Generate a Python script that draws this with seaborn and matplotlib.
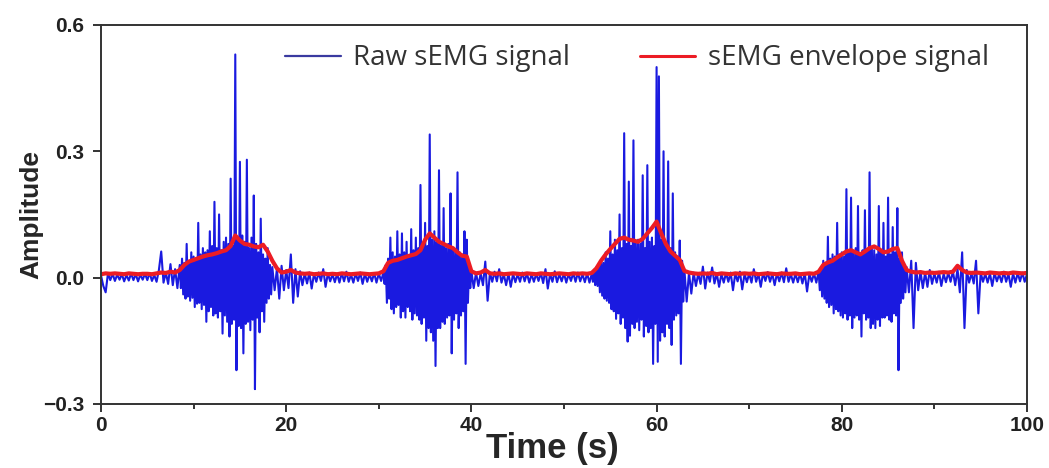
import numpy as np
import matplotlib
matplotlib.use("Agg")
import matplotlib.pyplot as plt
from matplotlib.ticker import MultipleLocator
import seaborn as sns

# raw sEMG signal, values in thousandths.
# quiet stretches are read at 4 samples/s, the four bursts at 8 samples/s

quiet_0 = [  # from 0.0 s
    5, -20, -35, 10,  -6, 9, -8, 7,  -5, 8, -9, 6,  -7, 10, -6, 8,
    -9, 7, -5, 9,  -6, 11, -8, 6,  -10, 18, 62, -12,  12, -15, 32, -18,
    20, -25,
]
burst_1 = [  # from 8.5 s
    30, -25, 45, -40, 35, -50, 80, -45,
    40, -55, 60, -48, 50, -70, 45, -62,
    130, -60, 55, -75, 70, -65, 60, -105,
    65, -80, 110, -70, 75, -90, 180, -85,
    70, -95, 150, -80, 65, -133, 85, -90,
    95, -105, 80, -140, 235, -110, 75, -100,
    530, -220, 90, -115, 275, -120, 100, -180,
    85, -110, 280, -105, 70, -125, 95, -100,
    195, -265, 80, -95, 60, -130, 140, -80,
    55, -105, 45, -60, 70, -50, 30, -40,
]
quiet_1 = [  # from 18.5 s
    25, -30, 22, -50,  28, -30, 18, -25,  55, -60, 20, -45,  15, -18, 10, -14,
    12, -26, 9, -10,  12, -8, 20, -22,  10, -9, 8, -11,  9, -12, 11, -9,
    14, -10, 7, -12,  10, -8, 12, -15,  9, -10, 8, -9,  11, -12, 10, -8,
]
burst_2 = [  # from 30.5 s
    12, -15, 30, -60, 45, -50, 95, -75,
    60, -85, 50, -70, 110, -65, 55, -95,
    105, -80, 60, -95, 85, -70, 50, -80,
    115, -100, 65, -85, 95, -90, 70, -100,
    220, -110, 80, -95, 130, -150, 75, -120,
    340, -130, 90, -150, 110, -210, 85, -120,
    255, -120, 75, -105, 165, -110, 70, -95,
    80, -90, 200, -180, 70, -100, 65, -85,
    250, -120, 60, -90, 55, -80, 110, -205,
    90, -60, 30, -25,
]
quiet_2 = [  # from 40.0 s
    15, -25, 12, -20,  10, -18, 38, -55,  12, -10, 14, -9,  20, -12, 8, -18,
    10, -22, 9, -11,  8, -10, 12, -9,  10, -12, 8, -10,  9, -8, 11, -13,
    20, -26, 9, -10,  15, -11, 8, -9,  10, -12, 9, -8,  11, -10, 12, -9,
    8, -11, 10, -12,
]
burst_3 = [  # from 53.0 s
    9, -10, 15, -18, 25, -20, 30, -35,
    40, -43, 35, -50, 60, -55, 45, -60,
    110, -75, 55, -80, 90, -98, 65, -85,
    150, -110, 70, -95, 343, -120, 80, -152,
    228, -138, 75, -110, 326, -120, 85, -105,
    90, -125, 80, -100, 243, -140, 70, -115,
    267, -130, 85, -120, 95, -205, 75, -110,
    500, -200, 478, -150, 90, -130, 300, -140,
    80, -110, 276, -120, 70, -160, 200, -100,
    60, -90, 50, -85, 88, -205, 40, -57,
]
quiet_3 = [  # from 63.0 s
    20, -57, 12, -38,  12, -20, 10, -15,  26, -26, 12, -10,  24, -14, 10, -22,
    9, -12, 11, -10,  12, -30, 10, -9,  14, -28, 9, -11,  10, -12, 20, -10,
    9, -22, 11, -8,  13, -10, 9, -18,  10, -9, 12, -11,  22, -10, 8, -12,
    9, -11, 10, -14,  11, -33, 9, -10,  10, -12,
]
burst_4 = [  # from 77.5 s
    15, -30, 25, -45, 40, -50, 35, -60,
    97, -70, 45, -65, 55, -85, 50, -75,
    130, -80, 55, -90, 60, -95, 50, -85,
    210, -100, 65, -90, 190, -120, 60, -95,
    70, -90, 170, -100, 55, -140, 65, -85,
    160, -100, 60, -95, 250, -120, 70, -110,
    65, -120, 55, -100, 170, -115, 60, -95,
    130, -95, 50, -90, 190, -100, 55, -105,
    120, -85, 60, -90, 165, -220, 45, -60,
    60, -50, 30, -35,
]
quiet_4 = [  # from 87.0 s
    25, -35, 40, -120,  35, -30, 15, -25,  12, -22, 18, -15,  10, -12, 14, -20,
    9, -11, 12, -10,  15, -18, 20, -35,  60, -120, 18, -12,  10, -14, 40, -85,
    12, -10, 9, -12,  10, -20, 11, -9,  8, -11, 14, -10,  9, -22, 10, -12,
    11, -9, 12, -10,  8,
]

# envelope, 2 samples per second, thousandths (one row per 5 s)
env_milli = [
    8, 10, 9, 10, 9, 8, 10, 9, 8, 9,
    9, 8, 10, 12, 11, 14, 12, 18, 30, 38,
    42, 46, 50, 53, 55, 58, 62, 65, 75, 100,
    88, 80, 78, 74, 72, 78, 62, 40, 22, 12,
    14, 18, 12, 10, 9, 10, 8, 9, 10, 8,
    9, 8, 10, 9, 8, 9, 10, 9, 8, 9,
    10, 15, 35, 40, 42, 46, 50, 53, 56, 65,
    90, 105, 95, 85, 80, 74, 70, 60, 52, 50,
    15, 10, 12, 18, 10, 9, 10, 8, 9, 10,
    9, 8, 10, 9, 8, 10, 9, 8, 9, 10,
    9, 8, 10, 9, 10, 9, 11, 22, 40, 55,
    68, 80, 92, 95, 90, 88, 85, 92, 105, 118,
    133, 105, 80, 62, 52, 42, 16, 12, 10, 9,
    10, 9, 11, 8, 10, 9, 8, 10, 9, 10,
    9, 10, 8, 9, 10, 9, 8, 10, 9, 9,
    10, 8, 9, 10, 9, 14, 30, 36, 40, 48,
    55, 62, 65, 60, 55, 62, 70, 74, 68, 60,
    62, 68, 70, 40, 18, 14, 12, 13, 11, 12,
    11, 12, 13, 12, 14, 28, 18, 12, 11, 12,
    11, 10, 12, 11, 10, 11, 10, 12, 11, 10, 11,
]

# (start time, samples per second, values)
segments = [
    (0.0, 4, quiet_0), (8.5, 8, burst_1), (18.5, 4, quiet_1), (30.5, 8, burst_2),
    (40.0, 4, quiet_2), (53.0, 8, burst_3), (63.0, 4, quiet_3), (77.5, 8, burst_4),
    (87.0, 4, quiet_4),
]
t_raw = np.concatenate([start + np.arange(len(v)) / rate for start, rate, v in segments])
raw = np.concatenate([np.array(v) for _, _, v in segments]) / 1000
env = np.array(env_milli) / 1000
t_env = np.arange(len(env)) / 2

sns.set_style("ticks")

fig = plt.figure(figsize=(10.49, 4.68), dpi=100)
ax = fig.add_axes([0.0963, 0.137, 0.8827, 0.8096])

sns.lineplot(x=t_raw, y=raw, ax=ax, color="#1a1ae0", lw=1.5, label="Raw sEMG signal")
sns.lineplot(x=t_env, y=env, ax=ax, color="#ec1c24", lw=3.0, label="sEMG envelope signal")

ax.set_xlim(0, 100)
ax.set_ylim(-0.3, 0.6)
ax.xaxis.set_major_locator(MultipleLocator(20))
ax.xaxis.set_minor_locator(MultipleLocator(10))
ax.yaxis.set_major_locator(MultipleLocator(0.3))

for sp in ax.spines.values():
    sp.set_color("#333333")
    sp.set_linewidth(1.4)

ax.tick_params(axis="both", which="major", direction="out", length=6, width=1.4, color="#333333")
ax.tick_params(axis="x", which="minor", direction="out", length=3.5, width=1.4, color="#333333")
ax.tick_params(axis="x", pad=3)
ax.tick_params(axis="y", pad=6)
for lab in ax.get_xticklabels() + ax.get_yticklabels():
    lab.set_fontfamily("Liberation Sans")
    lab.set_fontweight("bold")
    lab.set_fontsize(15)
    lab.set_color("#222222")

ax.set_xlabel("Time (s)", fontsize=25, fontweight="bold", family="Liberation Sans", labelpad=-2)
ax.xaxis.set_label_coords(0.487, -0.075, transform=ax.transAxes)
ax.xaxis.label.set_verticalalignment("top")
ax.set_ylabel("Amplitude", fontsize=19, fontweight="bold", family="Liberation Sans", labelpad=0)

leg = ax.legend(loc="upper right", ncol=2, frameon=False, handlelength=2.0,
                columnspacing=2.5, handletextpad=0.45, bbox_to_anchor=(0.986, 1.015),
                prop={"family": "Open Sans", "size": 20})
leg.get_lines()[0].set_color("#3a3aa0")
leg.get_lines()[0].set_linewidth(1.6)
leg.get_lines()[1].set_linewidth(2.2)
for txt in leg.get_texts():
    txt.set_color("#333333")

fig.savefig("out.png", dpi=100)
